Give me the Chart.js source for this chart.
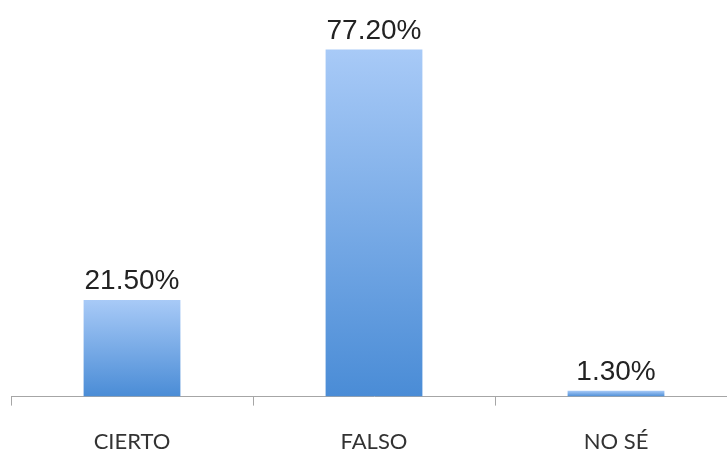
<!DOCTYPE html>
<html>
<head>
<meta charset="utf-8">
<script src="https://cdn.jsdelivr.net/npm/chart.js@4/dist/chart.umd.min.js"></script>
<style>
    html, body { margin: 0; padding: 0; background: #fff; }
    #wrap { width: 727px; height: 450px; overflow: hidden; }
    canvas { display: block; }
</style>
</head>
<body>
<div id="wrap"><canvas id="graph" width="747" height="478"></canvas></div>
<script>
const categories = ["CIERTO", "FALSO", "NO SÉ"];
const values = [21.5, 77.2, 1.3];
const valueLabels = ["21.50%", "77.20%", "1.30%"];

// vertical gradient per bar, light on top, darker at the base
function barGradient(context) {
    const chart = context.chart;
    const yScale = chart.scales.y;
    if (!yScale || context.dataIndex === undefined) return '#6fa3e6';
    const top = yScale.getPixelForValue(values[context.dataIndex]);
    const base = yScale.getPixelForValue(0);
    if (!isFinite(top) || !isFinite(base) || base - top < 1) return 'rgb(110,160,225)';
    const g = chart.ctx.createLinearGradient(0, top, 0, base);
    g.addColorStop(0, 'rgb(168,202,247)');
    g.addColorStop(1, 'rgb(74,140,214)');
    return g;
}

const valueLabelPlugin = {
    id: 'valueLabels',
    afterDatasetsDraw(chart) {
        const c = chart.ctx;
        const meta = chart.getDatasetMeta(0);
        c.save();
        c.font = '28px "Liberation Sans", Arial, sans-serif';
        c.fillStyle = '#222';
        c.textAlign = 'center';
        c.textBaseline = 'alphabetic';
        meta.data.forEach((bar, i) => {
            c.fillText(valueLabels[i], bar.x, bar.y - 11);
        });
        c.restore();
    }
};

let myChart;

function buildChart() {
    const ctx = document.getElementById('graph').getContext('2d');

    myChart = new Chart(ctx, {
        type: 'bar',
        data: {
            labels: categories,
            datasets: [{
                data: values,
                backgroundColor: barGradient,
                borderWidth: 0,
                barPercentage: 0.4,
                categoryPercentage: 1
            }]
        },
        options: {
            responsive: false,
            animation: false,
            layout: { padding: { left: 11, right: 10, top: 37, bottom: 0 } },
            plugins: {
                legend: { display: false },
                tooltip: { enabled: false }
            },
            scales: {
                x: {
                    offset: true,
                    grid: {
                        offset: true,
                        drawOnChartArea: false,
                        drawTicks: true,
                        tickLength: 9,
                        color: '#a6a6a6'
                    },
                    border: { display: true, color: '#a6a6a6', width: 1 },
                    ticks: {
                        color: '#333',
                        padding: 23,
                        font: { family: 'Lato, "Open Sans", sans-serif', size: 22 }
                    }
                },
                y: {
                    display: false,
                    min: 0,
                    max: 80
                }
            }
        },
        plugins: [valueLabelPlugin]
    });
}

buildChart();
</script>
</body>
</html>
